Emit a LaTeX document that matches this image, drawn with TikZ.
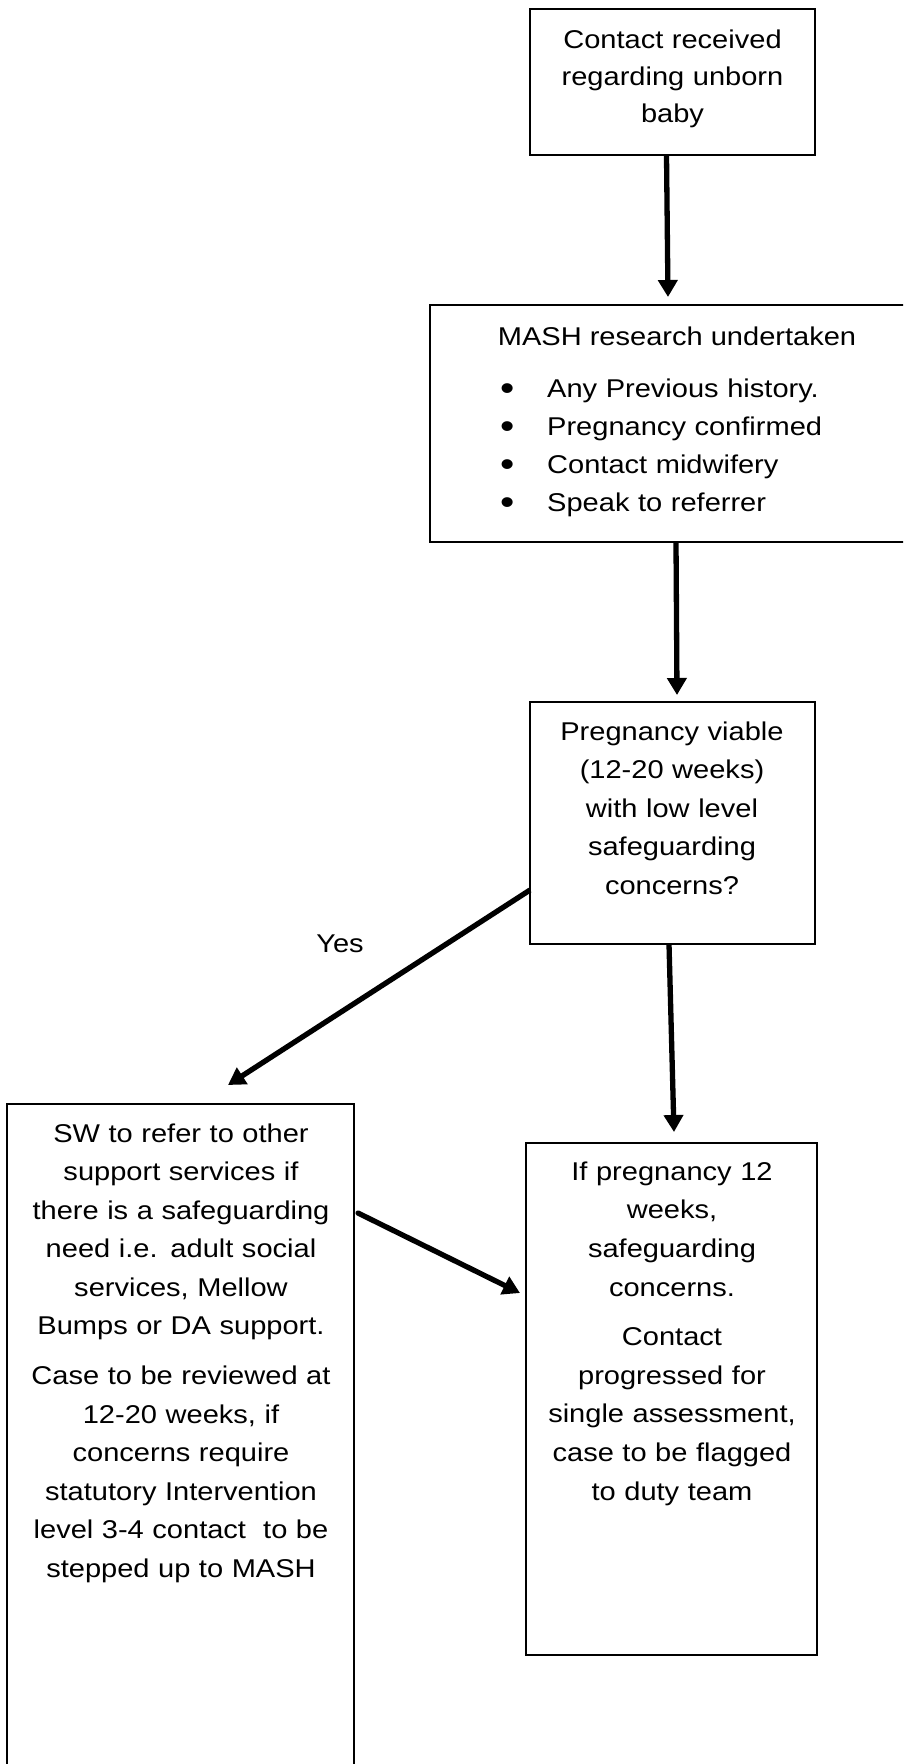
\documentclass[tikz,border=0pt]{standalone}
\usepackage{fontspec}
\setmainfont{Liberation Sans}[FakeStretch=1.13]
\usetikzlibrary{arrows.meta}
\newcommand\boxfont[1]{\fontsize{25.7}{#1}\selectfont}
\newcommand\listdot{\makebox[47pt][l]{\raisebox{-3.4pt}{\scalebox{1.4}{•}}}}
\begin{document}
\begin{tikzpicture}[x=1pt,y=-1pt,
  flowbox/.style={draw=black, line width=2.4pt, fill=white, inner sep=0pt, outer sep=0pt},
  flowtext/.style={anchor=base, align=center, text width=#1, inner sep=0pt},
  flowarrow/.style={line width=5.3pt, -{Triangle[length=17pt,width=19pt]}}]

% page frame
\useasboundingbox (0,0) rectangle (903,1764);
\fill[white] (0,0) rectangle (903,1764);
\clip (0,0) rectangle (903,1764);

% boxes
\node[flowbox, minimum width=285pt, minimum height=146pt] (contact) at (672.5,82) {};
\node[flowbox, minimum width=484pt, minimum height=237pt] (mash) at (672,423.5) {};
\node[flowbox, minimum width=285pt, minimum height=242pt] (viable) at (672.5,823) {};
\node[flowbox, minimum width=291pt, minimum height=512pt] (progress) at (671.5,1399) {};
\node[flowbox, minimum width=347pt, minimum height=700pt] (refer) at (180.5,1454) {};

% box texts
\node[flowtext=300pt, font=\boxfont{37}] (contacttext) at (672.5,48)
  {Contact received\\regarding unborn\\baby};
\node[anchor=base, inner sep=0pt, font=\boxfont{38.5}] (mashtitle) at (677,345)
  {MASH research undertaken};
\node[anchor=base west, align=left, text width=380pt, inner sep=0pt, font=\boxfont{38}] (mashlist) at (500,397)
  {\listdot Any Previous history.\\
   \listdot Pregnancy confirmed\\
   \listdot Contact midwifery\\
   \listdot Speak to referrer};
\node[flowtext=300pt, font=\boxfont{38.6}] (viabletext) at (672,740)
  {Pregnancy viable\\(12-20 weeks)\\with low level\\safeguarding\\concerns?};
\node[flowtext=300pt, font=\boxfont{38.7}] (progresstext) at (672,1180)
  {If pregnancy 12\\weeks,\\safeguarding\\concerns.\\[10.5pt]
   Contact\\progressed for\\single assessment,\\case to be flagged\\to duty team};
\node[flowtext=340pt, font=\boxfont{38.5}] (refertext) at (181,1142)
  {SW to refer to other\\support services if\\there is a safeguarding\\need i.e. adult social\\services, Mellow\\Bumps or DA support.\\[11.5pt]
   Case to be reviewed at\\12-20 weeks, if\\concerns require\\statutory Intervention\\level 3-4 contact~ to be\\stepped up to MASH};

% connectors
\draw[flowarrow] ([xshift=-6pt]contact.south) -- ([xshift=-4pt,yshift=8pt]mash.north);
\draw[flowarrow] ([xshift=4pt]mash.south) -- ([xshift=4.5pt,yshift=7pt]viable.north);
\draw[flowarrow] ([xshift=-3.5pt]viable.south) -- ([xshift=2.5pt,yshift=11pt]progress.north);
\draw[flowarrow] ([yshift=-67pt]viable.west) -- ([xshift=47.5pt,yshift=19pt]refer.north);
\draw[flowarrow, line cap=round] ([xshift=4pt,yshift=-109pt]refer.north east) -- ([xshift=-6pt,yshift=-150pt]progress.north west);

% branch label
\node[anchor=base, inner sep=0pt, font=\boxfont{30}] (yes) at (340,952) {Yes};
\end{tikzpicture}
\end{document}
